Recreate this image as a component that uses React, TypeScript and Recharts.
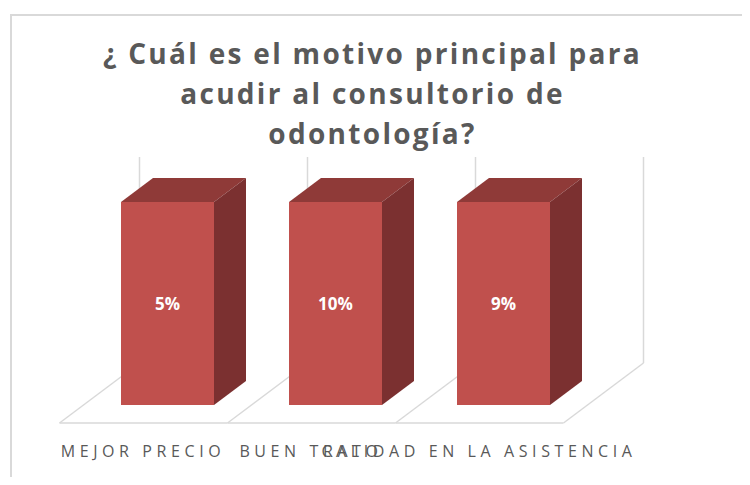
import { BarChart, Bar, XAxis, YAxis, LabelList } from "recharts";

const categories = ["MEJOR PRECIO", "BUEN TRATO", "CALIDAD EN LA ASISTENCIA"];
const percents = [5, 10, 9];
const titleLines = [
  "¿ Cuál es el motivo principal para",
  "acudir al consultorio de",
  "odontología?",
];

const data = categories.map((name, i) => ({ name, value: percents[i] }));

const W = 750;
const H = 485;
const axisH = 30;
const margin = { top: 202, right: 163, bottom: 80 - axisH, left: 83 };
const plotW = W - margin.left - margin.right;
const band = plotW / categories.length;

// 3d depth of the bar and of the floor, relative to the bar's front face
const barDx = 32;
const barDy = 24;
const floorFront = { dx: -24, dy: 18 };
const floorBack = { dx: 56, dy: -42 };
const grid = "#D9D9D9";
const text = "#595959";

const Box3D = (props: any) => {
  const { x, y, width, height, index } = props;
  const bottom = y + height;
  const cx = x + width / 2;
  const x0 = cx - band / 2;
  const x1 = cx + band / 2;
  const fy = bottom + floorFront.dy;
  const by = bottom + floorBack.dy;
  const wallTop = margin.top + floorBack.dy - 3;
  const last = index === categories.length - 1;
  return (
    <g>
      <line x1={x0 + floorFront.dx} y1={fy} x2={x1 + floorFront.dx} y2={fy} stroke={grid} strokeWidth={1.5} />
      <line x1={x0 + floorFront.dx} y1={fy} x2={x0 + floorBack.dx} y2={by} stroke={grid} strokeWidth={1.5} />
      <line x1={x0 + floorBack.dx} y1={by} x2={x0 + floorBack.dx} y2={wallTop} stroke={grid} strokeWidth={1.5} />
      {last && (
        <>
          <line x1={x1 + floorFront.dx} y1={fy} x2={x1 + floorBack.dx} y2={by} stroke={grid} strokeWidth={1.5} />
          <line x1={x1 + floorBack.dx} y1={by} x2={x1 + floorBack.dx} y2={wallTop} stroke={grid} strokeWidth={1.5} />
        </>
      )}
      <polygon
        points={`${x},${y} ${x + barDx},${y - barDy} ${x + width + barDx},${y - barDy} ${x + width},${y}`}
        fill="#8F3A38"
      />
      <polygon
        points={`${x + width},${y} ${x + width + barDx},${y - barDy} ${x + width + barDx},${bottom - barDy} ${x + width},${bottom}`}
        fill="#7B3030"
      />
      <rect x={x} y={y} width={width} height={height} fill="#C0504D" />
    </g>
  );
};

const CategoryTick = (props: any) => {
  const { x, y, payload } = props;
  return (
    <text
      x={x + floorFront.dx}
      y={y + 44}
      textAnchor="middle"
      fill={text}
      fontSize={16}
      letterSpacing={4.6}
      fontFamily="'Open Sans', sans-serif"
    >
      {payload.value}
    </text>
  );
};

export default function App() {
  return (
    <div style={{ position: "relative", width: W, height: H, margin: -8, background: "#fff", overflow: "hidden" }}>
      <div
        style={{
          position: "absolute",
          left: 10,
          top: 14,
          width: W,
          height: H,
          borderLeft: `2px solid ${grid}`,
          borderTop: `2px solid ${grid}`,
        }}
      />
      <div
        style={{
          position: "absolute",
          left: 0,
          top: 33,
          width: 745,
          textAlign: "center",
          fontFamily: "'Open Sans', sans-serif",
          fontWeight: 700,
          fontSize: 28,
          lineHeight: "40px",
          letterSpacing: 2.3,
          color: text,
        }}
      >
        {titleLines.map((l) => (
          <div key={l}>{l}</div>
        ))}
      </div>
      <div style={{ position: "absolute", left: 0, top: 0 }}>
        <BarChart width={W} height={H} data={data} margin={margin} stackOffset="expand">
          <XAxis dataKey="name" height={axisH} axisLine={false} tickLine={false} tick={<CategoryTick />} interval={0} />
          <YAxis hide domain={[0, 1]} />
          <Bar dataKey="value" stackId="a" barSize={93} shape={<Box3D />} isAnimationActive={false}>
            <LabelList
              dataKey="value"
              position="center"
              formatter={(v: any) => `${v}%`}
              fill="#fff"
              fontSize={17}
              fontWeight={700}
              fontFamily="'Open Sans', sans-serif"
            />
          </Bar>
        </BarChart>
      </div>
    </div>
  );
}
